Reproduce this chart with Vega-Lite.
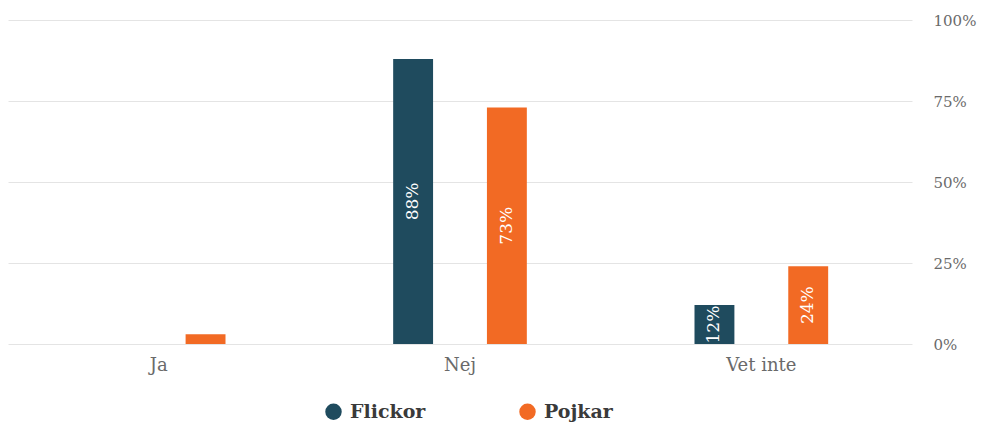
{
  "$schema": "https://vega.github.io/schema/vega-lite/v6.json",
  "width": 904,
  "height": 324,
  "autosize": {"type": "none"},
  "padding": {"left": 8, "top": 20, "right": 84, "bottom": 83},
  "background": "white",
  "config": {"view": {"stroke": null}},
  "data": {
    "values": [
      {"svar": "Ja", "grupp": "Flickor", "value": 0},
      {"svar": "Ja", "grupp": "Pojkar", "value": 0.03},
      {"svar": "Nej", "grupp": "Flickor", "value": 0.88},
      {"svar": "Nej", "grupp": "Pojkar", "value": 0.73},
      {"svar": "Vet inte", "grupp": "Flickor", "value": 0.12},
      {"svar": "Vet inte", "grupp": "Pojkar", "value": 0.24}
    ]
  },
  "encoding": {
    "x": {
      "field": "svar",
      "type": "nominal",
      "sort": ["Ja", "Nej", "Vet inte"],
      "scale": {"paddingInner": 0, "paddingOuter": 0},
      "axis": {
        "title": null,
        "labelAngle": 0,
        "labelFont": "DejaVu Serif",
        "labelFontSize": 18,
        "labelColor": "#6a6a6a",
        "labelPadding": 12,
        "ticks": false,
        "domain": false,
        "grid": false
      }
    },
    "xOffset": {
      "field": "grupp",
      "type": "nominal",
      "scale": {"paddingInner": 0.5745, "paddingOuter": 0.894}
    }
  },
  "layer": [
    {
      "mark": {"type": "bar"},
      "encoding": {
        "y": {
          "field": "value",
          "type": "quantitative",
          "scale": {"domain": [0, 1]},
          "axis": {
            "orient": "right",
            "title": null,
            "values": [0, 0.25, 0.5, 0.75, 1],
            "format": ".0%",
            "labelFont": "DejaVu Serif",
            "labelFontSize": 15,
            "labelColor": "#6a6a6a",
            "labelAlign": "left",
            "labelPadding": 21,
            "ticks": false,
            "domain": false,
            "grid": true,
            "gridColor": "#e4e4e4",
            "gridWidth": 1
          }
        },
        "color": {
          "field": "grupp",
          "type": "nominal",
          "scale": {"domain": ["Flickor", "Pojkar"], "range": ["#1f4b5e", "#f26a24"]},
          "legend": {
            "orient": "none",
            "legendX": 316,
            "legendY": 382,
            "direction": "horizontal",
            "title": null,
            "symbolType": "circle",
            "symbolSize": 270,
            "symbolStrokeWidth": 0,
            "labelFont": "DejaVu Serif",
            "labelFontSize": 19,
            "labelFontWeight": "bold",
            "labelColor": "#3a3a3a",
            "labelOffset": 7,
            "columnPadding": 92
          }
        }
      }
    },
    {
      "transform": [{"filter": "datum.value >= 0.05"}],
      "mark": {
        "type": "text",
        "angle": 270,
        "color": "white",
        "font": "DejaVu Serif",
        "fontSize": 17,
        "align": "center",
        "baseline": "middle"
      },
      "encoding": {
        "y": {
          "field": "value",
          "type": "quantitative",
          "scale": {"domain": [0, 2]},
          "axis": null
        },
        "text": {"field": "value", "type": "quantitative", "format": ".0%"}
      }
    }
  ],
  "resolve": {"scale": {"y": "independent"}}
}
